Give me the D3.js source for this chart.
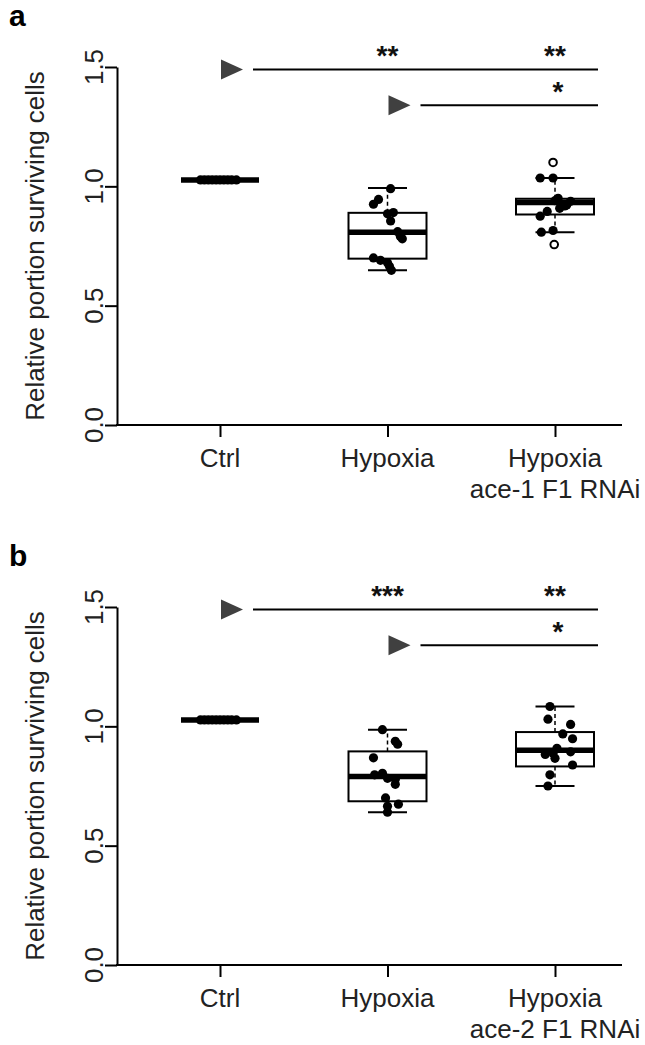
<!DOCTYPE html>
<html><head><meta charset="utf-8">
<script src="https://cdn.jsdelivr.net/npm/d3@7"></script>
<style>body{margin:0;background:#fff}svg{display:block}text{font-family:"Liberation Sans",Arial,sans-serif}</style>
</head><body><svg id="c" width="645" height="1045"></svg>
<script>
// ---------- data ----------
const categoriesA = [["Ctrl"], ["Hypoxia"], ["Hypoxia", "ace-1 F1 RNAi"]];
const categoriesB = [["Ctrl"], ["Hypoxia"], ["Hypoxia", "ace-2 F1 RNAi"]];
const yTicks = [0, 0.5, 1.0, 1.5];
const yTickLabels = ["0.0", "0.5", "1.0", "1.5"];
const yTitle = "Relative portion surviving cells";

// panel a points
const ctrlA = [1.027, 1.027, 1.027, 1.027, 1.027, 1.027, 1.027, 1.027, 1.027, 1.027];
const hypA = [0.99, 0.945, 0.925, 0.885, 0.89, 0.855, 0.81, 0.79, 0.78, 0.70, 0.69, 0.68, 0.665, 0.648];
const rnaiA = [1.035, 1.035, 0.94, 0.95, 0.895, 0.875, 0.815, 0.918, 0.937, 0.908, 0.808, 0.922];
const rnaiOutA = [1.1, 0.756];
// box stats [lower whisker, Q1, median, Q3, upper whisker]
const boxA = [[1.027, 1.027, 1.027, 1.027, 1.027], [0.648, 0.697, 0.808, 0.889, 0.993], [0.808, 0.882, 0.932, 0.948, 1.035]];

// panel b points
const ctrlB = [1.027, 1.027, 1.027, 1.027, 1.027, 1.027, 1.027, 1.027, 1.027, 1.027];
const hypB = [0.986, 0.937, 0.925, 0.868, 0.803, 0.782, 0.778, 0.757, 0.797, 0.70, 0.674, 0.665, 0.64];
const rnaiB = [1.083, 1.03, 1.008, 0.968, 0.948, 0.882, 0.887, 0.908, 0.866, 0.893, 0.838, 0.797, 0.75];
const boxB = [[1.027, 1.027, 1.027, 1.027, 1.027], [0.64, 0.686, 0.79, 0.895, 0.986], [0.75, 0.832, 0.9, 0.976, 1.083]];

// significance comparisons
const sigA = [{from: 0, to: 2, level: 1.49, stars: [[1, "**"], [2, "**"]]},
              {from: 1, to: 2, level: 1.34, stars: [[2, "*"]]}];
const sigB = [{from: 0, to: 2, level: 1.49, stars: [[1, "***"], [2, "**"]]},
              {from: 1, to: 2, level: 1.34, stars: [[2, "*"]]}];

// ---------- layout (jitter as fraction of box half-width) ----------
const jitCtrl = [-0.5, -0.4, -0.3, -0.2, -0.1, 0.0, 0.1, 0.2, 0.3, 0.42];
const jitHypA = [0.08, -0.23, -0.36, 0.0, 0.15, 0.08, 0.26, 0.33, 0.38, -0.36, -0.18, 0.0, 0.05, 0.1];
const jitRnaiA = [-0.38, -0.05, 0.0, 0.08, -0.2, -0.38, -0.05, 0.25, 0.4, 0.12, -0.35, 0.3];
const jitOutA = [-0.05, -0.02];
const jitHypB = [-0.13, 0.2, 0.26, -0.36, -0.13, 0.0, 0.2, 0.2, -0.33, -0.05, 0.28, 0.0, 0.0];
const jitRnaiB = [-0.13, -0.18, 0.4, 0.2, 0.45, -0.25, -0.05, 0.05, 0.0, 0.4, 0.45, -0.13, -0.18];

const svg = d3.select("#c");
svg.append("rect").attr("width", 645).attr("height", 1045).attr("fill", "#fff");

const FS = 26;
const boxW = 78;

function panel(off, letter, cats, pts, jits, outs, jitOuts, boxes, sigs) {
  const g = svg.append("g");
  const y = d3.scaleLinear().domain([0, 1.5]).range([425 + off, 67 + off]);
  const x = d3.scalePoint().domain([0, 1, 2]).range([220, 555]);

  g.append("text").attr("x", 9).attr("y", 26 + off).attr("font-size", 30)
    .attr("font-weight", "bold").text(letter);

  // y axis
  const ya = d3.axisLeft(y).tickValues(yTicks).tickSize(12).tickSizeOuter(0).tickFormat("");
  const yg = g.append("g").attr("transform", "translate(117,0)").call(ya);
  yg.selectAll("path,line").attr("stroke", "#000").attr("stroke-width", 2);
  g.selectAll(null).data(yTicks).enter().append("text")
    .attr("transform", (d) => `translate(103,${y(d)}) rotate(-90)`)
    .attr("text-anchor", "middle").attr("font-size", FS).attr("fill", "#222")
    .text((d, i) => yTickLabels[i]);
  g.append("text")
    .attr("transform", `translate(44,${(y(0) + y(1.5)) / 2}) rotate(-90)`)
    .attr("text-anchor", "middle").attr("font-size", FS).attr("fill", "#222").text(yTitle);

  // x axis
  g.append("line").attr("x1", 116).attr("x2", 622).attr("y1", y(0)).attr("y2", y(0))
    .attr("stroke", "#000").attr("stroke-width", 2);
  const xa = d3.axisBottom(x).tickSize(12).tickFormat("");
  const xg = g.append("g").attr("transform", `translate(0,${y(0)})`).call(xa);
  xg.select(".domain").remove();
  xg.selectAll("line").attr("stroke", "#000").attr("stroke-width", 2);
  cats.forEach((lines, i) => {
    lines.forEach((t, j) => {
      g.append("text").attr("x", x(i)).attr("y", y(0) + 42 + j * 31)
        .attr("text-anchor", "middle").attr("font-size", FS).attr("fill", "#222").text(t);
    });
  });

  // boxes
  boxes.forEach((b, i) => {
    const cx = x(i), hw = boxW / 2, cw = boxW / 4;
    const bg = g.append("g");
    bg.append("line").attr("x1", cx).attr("x2", cx).attr("y1", y(b[3])).attr("y2", y(b[4]))
      .attr("stroke", "#000").attr("stroke-width", 1.5).attr("stroke-dasharray", "4,3");
    bg.append("line").attr("x1", cx).attr("x2", cx).attr("y1", y(b[1])).attr("y2", y(b[0]))
      .attr("stroke", "#000").attr("stroke-width", 1.5).attr("stroke-dasharray", "4,3");
    [b[0], b[4]].forEach(v => bg.append("line").attr("x1", cx - cw).attr("x2", cx + cw)
      .attr("y1", y(v)).attr("y2", y(v)).attr("stroke", "#000").attr("stroke-width", 2));
    bg.append("rect").attr("x", cx - hw).attr("width", boxW).attr("y", y(b[3]))
      .attr("height", Math.max(0, y(b[1]) - y(b[3]))).attr("fill", "none")
      .attr("stroke", "#000").attr("stroke-width", 2);
    bg.append("line").attr("x1", cx - hw).attr("x2", cx + hw).attr("y1", y(b[2])).attr("y2", y(b[2]))
      .attr("stroke", "#000").attr("stroke-width", 5.5);
  });

  // points
  pts.forEach((arr, i) => {
    g.selectAll(null).data(arr).enter().append("circle")
      .attr("cx", (d, k) => x(i) + jits[i][k] * boxW / 2).attr("cy", d => y(d))
      .attr("r", 4.6).attr("fill", "#000");
  });
  g.selectAll(null).data(outs).enter().append("circle")
    .attr("cx", (d, k) => x(2) + jitOuts[k] * boxW / 2).attr("cy", d => y(d))
    .attr("r", 3.8).attr("fill", "#fff").attr("stroke", "#000").attr("stroke-width", 2);

  // significance
  sigs.forEach(s => {
    const ly = y(s.level), tx = x(s.from);
    g.append("path").attr("d", `M${tx + 1},${ly - 10}L${tx + 23},${ly}L${tx + 1},${ly + 10}Z`)
      .attr("fill", "#404040");
    g.append("line").attr("x1", tx + 33).attr("x2", x(s.to) + 43).attr("y1", ly).attr("y2", ly)
      .attr("stroke", "#000").attr("stroke-width", 2);
    s.stars.forEach(([ci, st]) => {
      g.append("text").attr("x", x(ci) + (st === "*" ? 3 : 0)).attr("y", ly - 4)
        .attr("text-anchor", "middle").attr("font-size", 28).attr("font-weight", "bold")
        .attr("fill", "#111").text(st);
    });
  });
}

panel(0, "a", categoriesA, [ctrlA, hypA, rnaiA], [jitCtrl, jitHypA, jitRnaiA], rnaiOutA, jitOutA, boxA, sigA);
panel(540, "b", categoriesB, [ctrlB, hypB, rnaiB], [jitCtrl, jitHypB, jitRnaiB], [], [], boxB, sigB);
</script></body></html>
